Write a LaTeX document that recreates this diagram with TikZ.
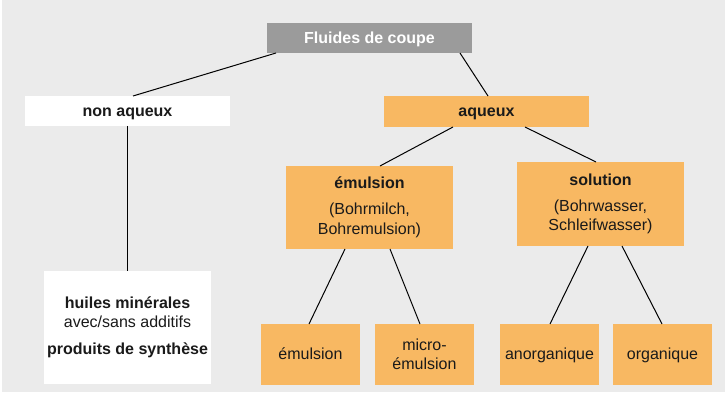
\documentclass[tikz,border=0pt]{standalone}
\usepackage{fontspec}
\setmainfont{Liberation Sans}
\definecolor{bgray}{HTML}{EBEBEB}
\definecolor{topgray}{HTML}{9B9B9B}
\definecolor{orng}{HTML}{F8B862}
\definecolor{txt}{HTML}{1A1A1A}
\tikzset{
  box/.style={inner sep=0pt, outer sep=0pt, align=center, text=txt,
    font=\fontsize{16}{19.5}\selectfont},
  wbox/.style={box, fill=white},
  obox/.style={box, fill=orng},
  gbox/.style={box, fill=topgray, text=white, font=\fontsize{16}{19.5}\selectfont\bfseries},
  one/.style={text height=12.5pt, text depth=2pt},
  link/.style={draw=black, line width=1pt}
}
\begin{document}
\begin{tikzpicture}[x=1pt,y=-1pt]
\useasboundingbox (0,0) rectangle (725,395);
\fill[bgray] (2,0) rectangle (725,392);
\node[gbox, one, minimum width=205, minimum height=30] (fl) at (369.5,38) {Fluides de coupe};
\node[wbox, one, minimum width=205, minimum height=30] (na) at (127.5,111) {\bfseries non aqueux};
\node[obox, one, minimum width=205, minimum height=31] (aq) at (486.5,111.5) {\bfseries aqueux};
\node[obox, minimum width=167, minimum height=83] (em) at (369.5,207.5) {\textbf{émulsion}\\[6.5pt](Bohrmilch,\\Bohremulsion)};
\node[obox, minimum width=167, minimum height=84] (so) at (600.5,204) {\textbf{solution}\\[6.5pt](Bohrwasser,\\Schleifwasser)};
\node[wbox, minimum width=167, minimum height=113] (hu) at (127.5,327.5) {\textbf{huiles minérales}\\avec/sans additifs\\[7.5pt]\textbf{produits de synthèse}};
\node[obox, one, minimum width=99, minimum height=61] (b1) at (310.5,354.5) {émulsion};
\node[obox, minimum width=99, minimum height=61] (b2) at (424.5,354.5) {micro-\\émulsion};
\node[obox, one, minimum width=99, minimum height=61] (b3) at (549.5,354.5) {anorganique};
\node[obox, one, minimum width=99, minimum height=61] (b4) at (662.5,354.5) {organique};
\draw[link] ([xshift=-93.5pt]fl.south) -- ([xshift=5.5pt]na.north);
\draw[link] ([xshift=90.5pt]fl.south) -- ([xshift=1.5pt]aq.north);
\draw[link] (na.south) -- (hu.north);
\draw[link] ([xshift=-33.5pt]aq.south) -- ([xshift=10.5pt]em.north);
\draw[link] ([xshift=38.5pt]aq.south) -- ([xshift=-4.5pt]so.north);
\draw[link] ([xshift=-24.5pt]em.south) -- ([xshift=-1.5pt]b1.north);
\draw[link] ([xshift=20.5pt]em.south) -- ([xshift=-4.5pt]b2.north);
\draw[link] ([xshift=-12.5pt]so.south) -- ([xshift=0.5pt]b3.north);
\draw[link] ([xshift=21.5pt]so.south) -- ([xshift=-0.5pt]b4.north);
\end{tikzpicture}
\end{document}
